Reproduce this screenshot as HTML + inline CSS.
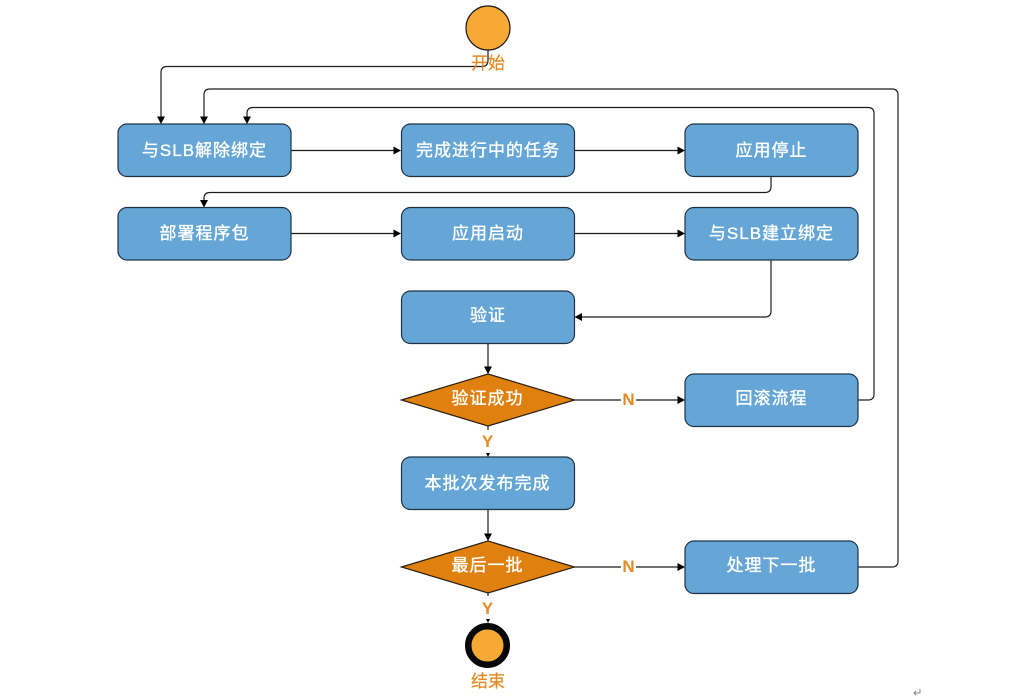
<!DOCTYPE html>
<html>
<head>
<meta charset="utf-8">
<style>
html,body{margin:0;padding:0;background:#fff;}
svg{display:block;}
.t{font-family:"Liberation Sans","Noto Sans CJK SC",sans-serif;font-size:17px;fill:#fff;stroke:#fff;stroke-width:0.35px;text-anchor:middle;letter-spacing:1px;}
.o{font-family:"Liberation Sans","Noto Sans CJK SC",sans-serif;font-size:17px;fill:#e58a22;stroke:#e58a22;stroke-width:0.2px;text-anchor:middle;}
.l{font-family:"Liberation Sans",sans-serif;font-size:17px;font-weight:bold;fill:#e58a22;text-anchor:middle;}
.b{fill:#65a6d6;stroke:#1f3347;stroke-width:1.2;}
.d{fill:#e0810f;stroke:#2b2012;stroke-width:1.2;}
.c{fill:none;stroke:#1c1c1c;stroke-width:1.2;}
.a{fill:#000;}
</style>
</head>
<body>
<svg width="1019" height="697" viewBox="0 0 1019 697" xmlns="http://www.w3.org/2000/svg">
<rect width="1019" height="697" fill="#fff"/>

<!-- connectors -->
<path class="c" d="M488 50V60Q488 66.500 482 66.500H167Q161 66.500 161 72.500V118"/>
<path class="c" d="M858 567H892Q898 567 898 561V95Q898 89 892 89H210Q204 89 204 95V118"/>
<path class="c" d="M858 400H868Q874 400 874 394V113.500Q874 107.500 868 107.500H253Q247 107.500 247 113.500V118"/>
<path class="c" d="M291 150.500H395"/>
<path class="c" d="M574.500 150.500H679"/>
<path class="c" d="M771 176V186.500Q771 192.500 765 192.500H210Q204 192.500 204 198.500V201"/>
<path class="c" d="M291 233.500H395"/>
<path class="c" d="M574.500 233.500H679"/>
<path class="c" d="M771 259.500V311Q771 317 765 317H581"/>
<path class="c" d="M488 343V368"/>
<path class="c" d="M574 400H679"/>
<path class="c" d="M488 426V451"/>
<path class="c" d="M488 509V535"/>
<path class="c" d="M574 567H679"/>
<path class="c" d="M488 593V617"/>

<!-- arrowheads -->
<polygon class="a" points="157,116.500 165,116.500 161,124"/>
<polygon class="a" points="200,116.500 208,116.500 204,124"/>
<polygon class="a" points="243,116.500 251,116.500 247,124"/>
<polygon class="a" points="393.500,146.500 393.500,154.500 401,150.500"/>
<polygon class="a" points="677.500,146.500 677.500,154.500 685,150.500"/>
<polygon class="a" points="200,200 208,200 204,207.500"/>
<polygon class="a" points="393.500,229.500 393.500,237.500 401,233.500"/>
<polygon class="a" points="677.500,229.500 677.500,237.500 685,233.500"/>
<polygon class="a" points="582,313 582,321 574.500,317"/>
<polygon class="a" points="484,366.500 492,366.500 488,374"/>
<polygon class="a" points="677.500,396 677.500,404 685,400"/>
<polygon class="a" points="484,533.500 492,533.500 488,541"/>
<polygon class="a" points="677.500,563 677.500,571 685,567"/>

<!-- start -->
<circle cx="488" cy="28" r="22" fill="#f7a933" stroke="#1a1a1a" stroke-width="1.2"/>
<text class="o" x="488" y="69">开始</text>

<!-- boxes -->
<rect class="b" x="118" y="124" width="173" height="52.500" rx="9"/>
<rect class="b" x="401.500" y="124" width="173" height="52.500" rx="9"/>
<rect class="b" x="685" y="124" width="173" height="52.500" rx="9"/>
<rect class="b" x="118" y="207.500" width="173" height="52.500" rx="9"/>
<rect class="b" x="401.500" y="207.500" width="173" height="52.500" rx="9"/>
<rect class="b" x="685" y="207.500" width="173" height="52.500" rx="9"/>
<rect class="b" x="401.500" y="291" width="173" height="52.500" rx="9"/>
<rect class="b" x="685" y="374" width="173" height="52.500" rx="9"/>
<rect class="b" x="401.500" y="457" width="173" height="52.500" rx="9"/>
<rect class="b" x="685" y="541" width="173" height="52.500" rx="9"/>

<!-- diamonds -->
<polygon class="d" points="401.500,400 488,374 574.500,400 488,426"/>
<polygon class="d" points="401.500,567 488,541 574.500,567 488,593"/>

<!-- box text -->
<text class="t" x="204.500" y="156">与SLB解除绑定</text>
<text class="t" x="488" y="156">完成进行中的任务</text>
<text class="t" x="771.500" y="156">应用停止</text>
<text class="t" x="204.500" y="239">部署程序包</text>
<text class="t" x="488" y="239">应用启动</text>
<text class="t" x="771.500" y="239">与SLB建立绑定</text>
<text class="t" x="488" y="321">验证</text>
<text class="t" x="487.500" y="404">验证成功</text>
<text class="t" x="771.500" y="404">回滚流程</text>
<text class="t" x="487.500" y="489">本批次发布完成</text>
<text class="t" x="487.500" y="571">最后一批</text>
<text class="t" x="771.500" y="571">处理下一批</text>

<!-- branch labels -->
<rect x="621" y="391" width="15" height="18" fill="#fff"/>
<text class="l" x="628.500" y="405">N</text>
<rect x="480" y="430" width="16" height="23" fill="#fff"/>
<text class="l" x="487.500" y="447">Y</text>
<polygon class="a" points="486,453 490,453 488,457"/>
<rect x="621" y="558" width="15" height="18" fill="#fff"/>
<text class="l" x="628.500" y="572">N</text>
<rect x="480" y="596" width="16" height="23" fill="#fff"/>
<text class="l" x="487.500" y="614">Y</text>
<polygon class="a" points="486,619 490,619 488,623"/>

<!-- end -->
<circle cx="487.500" cy="645.500" r="19.250" fill="#f7a933" stroke="#080808" stroke-width="6.500"/>
<text class="o" x="488" y="687">结束</text>

<!-- return mark -->
<path d="M920 689V693H914M916 691L914 693L916 695" fill="none" stroke="#8a8a8a" stroke-width="1"/>
</svg>
</body>
</html>
